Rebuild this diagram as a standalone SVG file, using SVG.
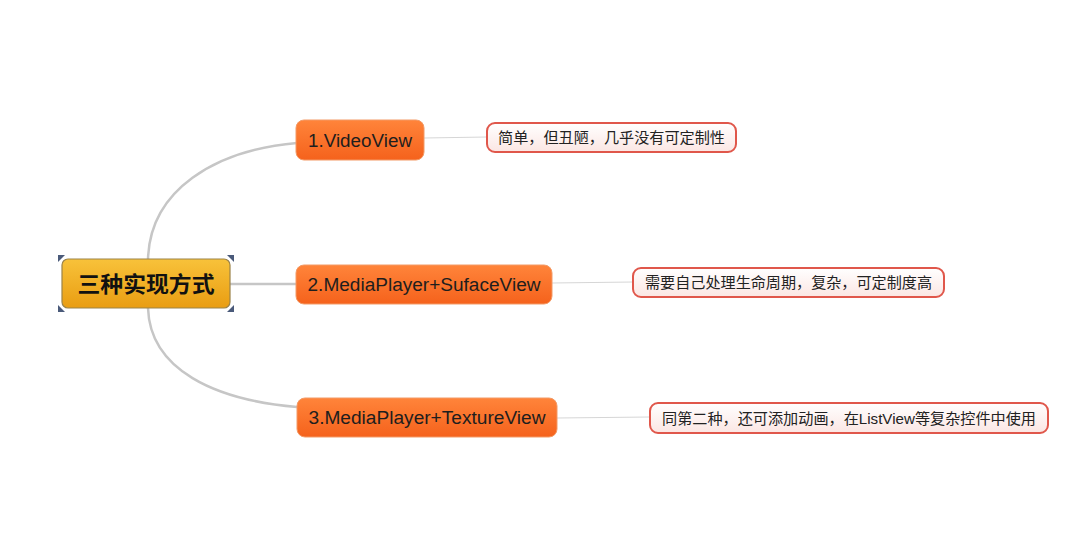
<svg xmlns="http://www.w3.org/2000/svg" width="1075" height="559" viewBox="0 0 1075 559">
<defs>
<linearGradient id="gGold" x1="0" y1="0" x2="0" y2="1">
<stop offset="0" stop-color="#f8c23a"/>
<stop offset="1" stop-color="#e99d12"/>
</linearGradient>
<linearGradient id="gOrange" x1="0" y1="0" x2="0" y2="1">
<stop offset="0" stop-color="#ff843a"/>
<stop offset="1" stop-color="#f5621c"/>
</linearGradient>
<linearGradient id="gNote" x1="0" y1="0" x2="0" y2="1">
<stop offset="0" stop-color="#ffffff"/>
<stop offset="1" stop-color="#fbe6e3"/>
</linearGradient>
<style>
.conn{fill:none;stroke:#c6c6c6;stroke-width:2.5}
.thin{fill:none;stroke:#d6d6d6;stroke-width:1.2}
.main{fill:url(#gOrange);stroke:#f39a66;stroke-width:1}
.note{fill:url(#gNote);stroke:#e0574b;stroke-width:2}
.t1{font-family:"Liberation Sans","Noto Sans CJK SC",sans-serif;font-size:18px;fill:#1e1e1e}
.tn{font-family:"Liberation Sans","Noto Sans CJK SC",sans-serif;font-size:15px;fill:#222}
.tc{font-family:"Noto Sans CJK SC",sans-serif;font-size:22px;font-weight:bold;fill:#111}
.h{fill:#4a5a7a}
</style>
</defs>
<rect width="1075" height="559" fill="#ffffff"/>
<g id="connectors">
<path class="conn" d="M148,259 C150,190 215,150 297,143"/>
<path class="conn" d="M230,284 L296,284"/>
<path class="conn" d="M148,308 C150,370 215,400 297,407"/>
<path class="thin" d="M424,138 L487,137"/>
<path class="thin" d="M552,283 L633,282"/>
<path class="thin" d="M557,418 L650,417"/>
</g>
<g id="root">
<rect x="62" y="259" width="168" height="49" rx="6" fill="url(#gGold)" stroke="#9b8348" stroke-width="1.2"/>
<text class="tc" x="146" y="291.5" text-anchor="middle" textLength="137" lengthAdjust="spacingAndGlyphs">三种实现方式</text>
<path class="h" d="M58,255 h7 l-7,7 z"/>
<path class="h" d="M234,255 h-7 l7,7 z"/>
<path class="h" d="M58,312 h7 l-7,-7 z"/>
<path class="h" d="M234,312 h-7 l7,-7 z"/>
</g>
<g id="n1">
<rect class="main" x="296" y="120" width="128" height="40" rx="8"/>
<text class="t1" x="360" y="146.5" text-anchor="middle" textLength="104" lengthAdjust="spacingAndGlyphs">1.VideoView</text>
</g>
<g id="n2">
<rect class="main" x="296" y="265" width="256" height="39" rx="8"/>
<text class="t1" x="424" y="291" text-anchor="middle" textLength="233" lengthAdjust="spacingAndGlyphs">2.MediaPlayer+SufaceView</text>
</g>
<g id="n3">
<rect class="main" x="297" y="398" width="260" height="39" rx="8"/>
<text class="t1" x="427" y="424" text-anchor="middle" textLength="237" lengthAdjust="spacingAndGlyphs">3.MediaPlayer+TextureView</text>
</g>
<g id="note1">
<rect class="note" x="487" y="123" width="249" height="29" rx="8"/>
<text class="tn" x="611.5" y="143" text-anchor="middle" textLength="227" lengthAdjust="spacingAndGlyphs">简单，但丑陋，几乎没有可定制性</text>
</g>
<g id="note2">
<rect class="note" x="633" y="268" width="311" height="29" rx="8"/>
<text class="tn" x="788.5" y="288" text-anchor="middle" textLength="287" lengthAdjust="spacingAndGlyphs">需要自己处理生命周期，复杂，可定制度高</text>
</g>
<g id="note3">
<rect class="note" x="650" y="403" width="398" height="30" rx="8"/>
<text class="tn" x="849" y="423.5" text-anchor="middle" textLength="374" lengthAdjust="spacingAndGlyphs">同第二种，还可添加动画，在ListView等复杂控件中使用</text>
</g>
</svg>
